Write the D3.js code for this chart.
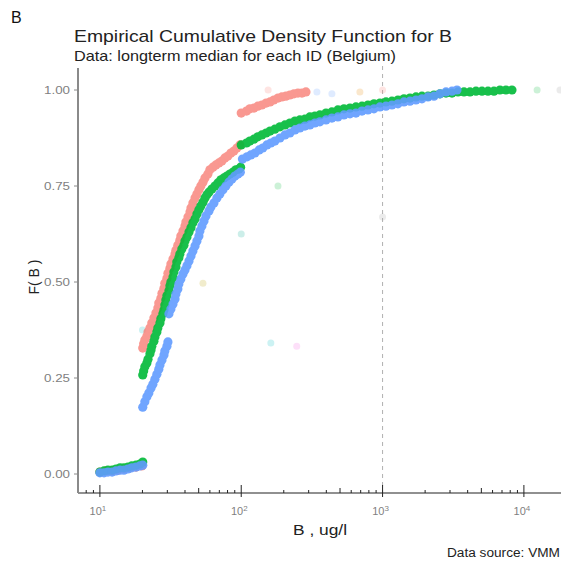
<!DOCTYPE html>
<meta charset="utf-8">
<script src="https://d3js.org/d3.v7.min.js"></script>
<style>
  body { margin: 0; background: #fff; }
  text { font-family: "Liberation Sans", Arial, sans-serif; }
</style>
<div id="my_dataviz"></div>
<script>

// ECDF points: [B (ug/l), F(B)]
var redPts = [
  [10,.005],[11.0,.008],[12.2,.008],[13.4,.010],[14.8,.013],[16.3,.016],[18.0,.018],[19.8,.021],
  [20.1,.328],[20.4,.339],[20.8,.349],[21.5,.359],[21.9,.370],[22.6,.380],[23.3,.393],[24.1,.406],
  [24.9,.419],[25.7,.432],[26.1,.445],[27.0,.458],[27.5,.471],[28.4,.484],[28.8,.497],[29.8,.510],
  [30.3,.523],[31.3,.536],[31.8,.547],[32.9,.560],[34.0,.573],[34.5,.583],[35.6,.596],[36.8,.609],
  [37.4,.620],[38.7,.633],[40.0,.646],[40.6,.656],[42.0,.669],[43.4,.682],[44.1,.693],[45.5,.706],
  [47.1,.719],[48.6,.729],[50.2,.740],[51.8,.750],[53.6,.760],[55.4,.771],[58.1,.781],[60.0,.792],
  [63.1,.799],[66.2,.805],[69.5,.810],[73.0,.815],[76.6,.823],[80.5,.828],[84.5,.836],[88.7,.841],
  [93.2,.849],[97.9,.857],
  [100,.940],[109,.945],[115,.951],[123,.953],[131,.958],[140,.961],[150,.966],[160,.969],[170,.974],
  [182,.979],[194,.982],[207,.984],[221,.987],[236,.990],[252,.992],[269,.992],[287,.995]
];

var greenPts = [
  [10,.005],[10.7,.008],[11.4,.010],[12.2,.010],[13.0,.013],[13.9,.016],[14.8,.016],[15.8,.018],
  [16.8,.021],[18.0,.023],[19.2,.026],[20.1,.031],
  [20.1,.258],[20.4,.268],[20.8,.279],[21.5,.289],[21.9,.299],[22.6,.313],[23.0,.323],[23.3,.333],
  [24.1,.346],[24.5,.357],[25.3,.370],[25.7,.380],[26.6,.393],[27.0,.404],[27.9,.417],[28.4,.427],
  [28.8,.440],[29.3,.453],[29.8,.464],[30.8,.477],[31.3,.490],[31.8,.500],[32.9,.513],[33.4,.526],
  [34.5,.539],[35.0,.552],[36.2,.563],[36.8,.573],[38.0,.586],[39.3,.596],[40.0,.607],[41.3,.617],
  [42.7,.630],[44.1,.641],[45.5,.654],[47.1,.664],[48.6,.677],[50.2,.688],[51.8,.698],[53.6,.708],
  [55.4,.719],[57.2,.727],[59.1,.734],[62.0,.742],[65.2,.750],[68.4,.758],[71.8,.766],[75.4,.771],
  [79.2,.776],[83.1,.781],[87.4,.786],[91.7,.792],[96.4,.794],[99.0,.799],
  [100,.857],[109,.862],[115,.867],[123,.872],[131,.878],[140,.883],[150,.888],[160,.893],[173,.898],
  [188,.904],[204,.909],[221,.914],[240,.919],[260,.922],[282,.924],[306,.930],[332,.932],[360,.935],
  [398,.940],[438,.943],[483,.948],[533,.951],[588,.953],[648,.956],[715,.958],[788,.961],[869,.964],
  [958,.966],[1057,.969],[1165,.971],[1285,.974],[1417,.977],[1563,.979],[1723,.982],[1900,.984],
  [2096,.984],[2311,.987],[2548,.990],[2810,.992],[3099,.992],[3417,.995],[3768,.995],[4155,.995],
  [4580,.997],[5050,.997],[5570,.997],[6140,.997],[6770,1],[7465,1],[8230,1]
];

var bluePts = [
  [10,.003],[10.7,.003],[11.4,.005],[12.2,.005],[13.0,.008],[13.9,.010],[14.8,.010],[15.8,.013],
  [16.8,.016],[18.0,.018],[19.2,.021],[20.1,.023],
  [20.1,.174],[20.8,.188],[21.5,.201],[22.2,.211],[23.0,.224],[23.7,.234],[24.5,.247],[25.3,.260],
  [26.1,.273],[26.6,.284],[27.5,.297],[28.4,.310],[28.8,.320],[29.8,.333],[30.3,.344],
  [30.8,.417],[31.8,.430],[32.9,.443],[34.0,.456],[34.5,.469],[35.6,.482],[36.2,.495],[37.4,.508],
  [38.7,.521],[40.0,.531],[41.3,.542],[42.7,.555],[44.1,.568],[45.5,.581],[47.1,.594],[48.6,.607],
  [50.2,.620],[51.0,.633],[52.7,.646],[54.5,.659],[56.3,.672],[59.1,.685],[61.0,.695],[64.1,.706],
  [67.3,.719],[70.6,.729],[74.2,.740],[77.9,.750],[81.8,.760],[86.0,.768],[90.2,.776],[94.8,.781],
  [98.5,.786],
  [102,.820],[110,.826],[117,.831],[125,.836],[134,.844],[142,.849],[152,.857],[162,.862],[173,.867],
  [188,.875],[204,.883],[221,.888],[240,.896],[260,.901],[282,.906],[306,.909],[332,.914],[360,.917],
  [398,.922],[438,.927],[483,.930],[533,.935],[588,.938],[648,.940],[715,.945],[788,.948],[869,.951],
  [958,.956],[1057,.958],[1165,.961],[1285,.964],[1417,.969],[1563,.971],[1723,.974],[1900,.977],
  [2096,.982],[2311,.984],[2548,.990],[2810,.995],[3099,.997],[3360,1]
];

// faint scattered points: [B, F, colour]
var faintPts = [
  [20, .375, "#00BFC4"], [53.6, .497, "#B79F00"], [100, .625, "#00A98F"], [182, .75, "#00BA38"],
  [162, .341, "#00BFC4"], [247, .333, "#F564E3"], [1000, .669, "#999999"],
  [155, 1, "#F8766D"], [343, .995, "#619CFF"], [438, .99, "#619CFF"], [691, .995, "#E58700"],
  [1000, 1, "#F8766D"], [12400, 1, "#00BA38"], [18000, 1, "#999999"]
];

var series = [
  {name: "red", color: "#F8766D", alpha: 0.75, pts: redPts},
  {name: "green", color: "#00BA38", alpha: 0.9, pts: greenPts},
  {name: "blue", color: "#619CFF", alpha: 0.9, pts: bluePts}
];

var xMajor = [10, 100, 1000, 10000];
var xExp = ["1", "2", "3", "4"];
var xDecades = [1, 10, 100, 1000, 10000];
var xMinorMult = [2, 3, 4, 5, 6, 7, 8, 9];
var yTicks = [0, 0.25, 0.5, 0.75, 1];
var refLine = 1000;

var W = 561, H = 563;
var svg = d3.select("#my_dataviz")
  .append("svg")
    .attr("width", W)
    .attr("height", H);

var x = d3.scaleLog().domain([7, 18300]).range([78, 561]);
var y = d3.scaleLinear().domain([0, 1]).range([474, 90]);
var axisY = 493;

// dashed reference line at 10^3
svg.append("line")
  .attr("x1", x(refLine)).attr("x2", x(refLine))
  .attr("y1", 66).attr("y2", axisY)
  .attr("stroke", "#b0b0b0")
  .attr("stroke-width", 1)
  .attr("stroke-dasharray", "4,4");

// faint points
svg.append("g")
  .selectAll("circle")
  .data(faintPts)
  .enter()
  .append("circle")
    .attr("cx", function(d) { return x(d[0]) })
    .attr("cy", function(d) { return y(d[1]) })
    .attr("r", 3.5)
    .attr("fill", function(d) { return d[2] })
    .attr("opacity", 0.2);

// ECDF points, opacity per group so the bands stay smooth
series.forEach(function(s) {
  svg.append("g")
    .attr("opacity", s.alpha)
    .selectAll("circle")
    .data(s.pts)
    .enter()
    .append("circle")
      .attr("cx", function(d) { return x(d[0]) })
      .attr("cy", function(d) { return y(d[1]) })
      .attr("r", 4.6)
      .attr("fill", s.color);
});

// log ticks along the bottom
var minor = [];
xDecades.forEach(function(dec) {
  xMinorMult.forEach(function(m) {
    var v = dec * m;
    if (v >= 7 && v <= 18300) minor.push(v);
  });
});
svg.append("g")
  .selectAll("line")
  .data(minor)
  .enter()
  .append("line")
    .attr("x1", function(d) { return x(d) })
    .attr("x2", function(d) { return x(d) })
    .attr("y1", axisY)
    .attr("y2", function(d) { return String(d).charAt(0) == "5" ? axisY - 5 : axisY - 3 })
    .attr("stroke", "#222")
    .attr("stroke-width", 1);
svg.append("g")
  .selectAll("line")
  .data(xMajor)
  .enter()
  .append("line")
    .attr("x1", function(d) { return x(d) })
    .attr("x2", function(d) { return x(d) })
    .attr("y1", axisY - 8)
    .attr("y2", axisY + 4)
    .attr("stroke", "#222")
    .attr("stroke-width", 1);

// x axis line
svg.append("line")
  .attr("x1", 78).attr("x2", W)
  .attr("y1", axisY).attr("y2", axisY)
  .attr("stroke", "#222")
  .attr("stroke-width", 1.2);

// x tick labels 10^n
var xl = svg.append("g")
  .selectAll("text")
  .data(xMajor)
  .enter()
  .append("text")
    .attr("x", function(d) { return x(d) - 2 })
    .attr("y", 515)
    .attr("text-anchor", "middle")
    .attr("fill", "#7f7f7f")
    .style("font-size", "11px");
xl.append("tspan").text("10");
xl.append("tspan")
  .attr("dy", -4)
  .style("font-size", "8px")
  .text(function(d, i) { return xExp[i] });

// y axis
svg.append("line")
  .attr("x1", 78).attr("x2", 78)
  .attr("y1", 68).attr("y2", axisY)
  .attr("stroke", "#8a8a8a")
  .attr("stroke-width", 2);
svg.append("g")
  .selectAll("line")
  .data(yTicks)
  .enter()
  .append("line")
    .attr("x1", 74).attr("x2", 78)
    .attr("y1", function(d) { return y(d) })
    .attr("y2", function(d) { return y(d) })
    .attr("stroke", "#8a8a8a")
    .attr("stroke-width", 1);
svg.append("g")
  .selectAll("text")
  .data(yTicks)
  .enter()
  .append("text")
    .attr("x", 70)
    .attr("y", function(d) { return y(d) + 4 })
    .attr("text-anchor", "end")
    .attr("fill", "#7f7f7f")
    .attr("textLength", 26)
    .attr("lengthAdjust", "spacingAndGlyphs")
    .style("font-size", "11.5px")
    .text(d3.format(".2f"));

// titles and labels
svg.append("text")
  .attr("x", 11).attr("y", 23)
  .attr("fill", "#111")
  .style("font-size", "16px")
  .text("B");
svg.append("text")
  .attr("x", 74).attr("y", 42)
  .attr("fill", "#222")
  .attr("textLength", 378)
  .attr("lengthAdjust", "spacingAndGlyphs")
  .style("font-size", "17px")
  .text("Empirical Cumulative Density Function for B");
svg.append("text")
  .attr("x", 74).attr("y", 61)
  .attr("fill", "#222")
  .attr("textLength", 322)
  .attr("lengthAdjust", "spacingAndGlyphs")
  .style("font-size", "14.5px")
  .text("Data: longterm median for each ID (Belgium)");
svg.append("text")
  .attr("transform", "translate(39,277) rotate(-90)")
  .attr("text-anchor", "middle")
  .attr("fill", "#222")
  .style("font-size", "14px")
  .text("F( B )");
svg.append("text")
  .attr("x", 293).attr("y", 535)
  .attr("fill", "#222")
  .attr("textLength", 54)
  .attr("lengthAdjust", "spacingAndGlyphs")
  .style("font-size", "14.5px")
  .text("B , ug/l");
svg.append("text")
  .attr("x", 447).attr("y", 557)
  .attr("fill", "#222")
  .attr("textLength", 113)
  .attr("lengthAdjust", "spacingAndGlyphs")
  .style("font-size", "12px")
  .text("Data source: VMM");

</script>
